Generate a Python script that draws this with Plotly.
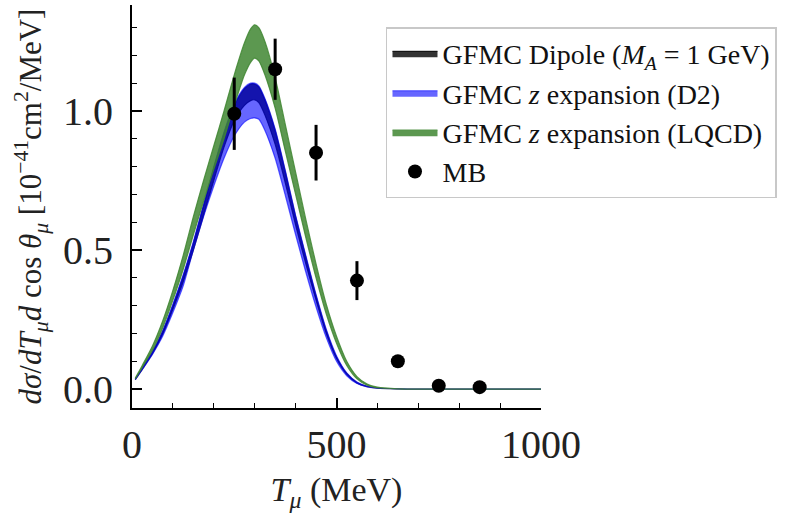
import plotly.graph_objects as go

# Muon kinetic energy grid (MeV) for the theory bands
T_mu = [8, 25, 50, 75, 100, 125, 150, 175, 200, 225, 250, 275, 290, 300, 310, 325,
        350, 375, 400, 425, 450, 475, 500, 525, 550, 575, 600, 650, 700, 800, 900, 1000]

# GFMC with dipole axial form factor (M_A = 1 GeV)
dipole_lo = [0.034, 0.071, 0.127, 0.197, 0.287, 0.385, 0.50, 0.625, 0.75, 0.87, 0.965, 1.02,
             1.037, 1.04, 1.03, 0.985, 0.88, 0.74, 0.59, 0.45, 0.32, 0.20, 0.11, 0.053,
             0.022, 0.009, 0.0035, 0.001, 0, 0, 0, 0]
dipole_hi = [0.036, 0.075, 0.133, 0.207, 0.30, 0.405, 0.525, 0.66, 0.795, 0.92, 1.02, 1.08,
             1.097, 1.097, 1.087, 1.04, 0.93, 0.78, 0.62, 0.475, 0.335, 0.21, 0.115, 0.056,
             0.024, 0.010, 0.004, 0.001, 0, 0, 0, 0]

# GFMC with z expansion, deuterium fit (D2)
d2_lo = [0.034, 0.07, 0.125, 0.19, 0.275, 0.37, 0.50, 0.62, 0.73, 0.83, 0.91, 0.96,
         0.973, 0.975, 0.97, 0.93, 0.83, 0.695, 0.555, 0.42, 0.295, 0.185, 0.10, 0.048,
         0.020, 0.008, 0.003, 0.001, 0, 0, 0, 0]
d2_hi = [0.037, 0.076, 0.135, 0.21, 0.305, 0.41, 0.53, 0.665, 0.80, 0.925, 1.025, 1.085,
         1.10, 1.10, 1.09, 1.045, 0.935, 0.785, 0.625, 0.48, 0.34, 0.215, 0.12, 0.058,
         0.025, 0.010, 0.004, 0.001, 0, 0, 0, 0]

# GFMC with z expansion, lattice QCD form factor (LQCD)
lqcd_lo = [0.037, 0.078, 0.14, 0.22, 0.32, 0.43, 0.555, 0.675, 0.79, 0.90, 1.02, 1.13,
           1.175, 1.19, 1.18, 1.13, 1.01, 0.855, 0.70, 0.545, 0.40, 0.27, 0.165, 0.085,
           0.037, 0.014, 0.005, 0.001, 0, 0, 0, 0]
lqcd_hi = [0.040, 0.085, 0.155, 0.245, 0.355, 0.48, 0.62, 0.75, 0.875, 1.00, 1.13, 1.245,
           1.295, 1.31, 1.30, 1.25, 1.12, 0.95, 0.78, 0.61, 0.45, 0.305, 0.19, 0.10,
           0.045, 0.018, 0.007, 0.001, 0, 0, 0, 0]

# MiniBooNE data points
mb_T = [250, 350, 450, 550, 650, 750, 850]
mb_xs = [0.99, 1.15, 0.85, 0.39, 0.10, 0.012, 0.007]
mb_err = [0.13, 0.11, 0.10, 0.07, 0.012, 0.005, 0.004]

SERIF = "Liberation Serif, Times New Roman, serif"


def band(x, lo, hi, name, fill, edge):
    return go.Scatter(
        x=x + x[::-1],
        y=hi + lo[::-1],
        fill="toself",
        fillcolor=fill,
        mode="lines",
        line=dict(color=edge, width=1.2, shape="spline", smoothing=0.7),
        name=name,
        hoverinfo="skip",
        legendgroup=name,
    )


fig = go.Figure()
fig.add_trace(band(T_mu, dipole_lo, dipole_hi,
                   "GFMC Dipole (<i>M</i><sub><i>A</i></sub> = 1 GeV)",
                   "rgba(0,0,0,0.8)", "rgba(0,0,0,0.8)"))
fig.add_trace(band(T_mu, d2_lo, d2_hi,
                   "GFMC <i>z</i> expansion (D2)",
                   "rgba(0,0,255,0.6)", "rgba(0,0,255,0.6)"))
fig.add_trace(band(T_mu, lqcd_lo, lqcd_hi,
                   "GFMC <i>z</i> expansion (LQCD)",
                   "rgba(63,134,49,0.85)", "rgba(63,134,49,0.85)"))
fig.add_trace(go.Scatter(
    x=mb_T, y=mb_xs, mode="markers", name="MB", legendgroup="MB",
    marker=dict(color="black", size=14),
    error_y=dict(type="data", array=mb_err, color="black", thickness=3, width=0),
))

axis_common = dict(
    showline=True, linecolor="black", linewidth=2,
    ticks="inside", ticklen=10, tickwidth=1.5, tickcolor="black",
    showgrid=False, zeroline=False, mirror=False,
    tickfont=dict(family=SERIF, size=40, color="#222"),
)

fig.update_layout(
    width=796, height=513,
    margin=dict(l=132, r=255, t=5, b=105),
    paper_bgcolor="white", plot_bgcolor="white",
    showlegend=True,
    legend=dict(
        x=0.621, y=0.945, xanchor="left", yanchor="top",
        bgcolor="white", bordercolor="#c8c8c8", borderwidth=1.5,
        font=dict(family=SERIF, size=28, color="#111"),
        traceorder="grouped", tracegroupgap=0, itemwidth=45,
    ),
    xaxis=dict(
        range=[0, 1000], tickvals=[0, 500, 1000], ticktext=["0", "500", "1000"],
        minor=dict(ticks="inside", ticklen=5, tickwidth=1.2, tickcolor="black", dtick=100),
        title=dict(text="<i>T</i><sub><i>μ</i></sub> (MeV)", standoff=16,
                   font=dict(family=SERIF, size=34, color="#222")),
        **axis_common,
    ),
    yaxis=dict(
        range=[-0.068, 1.381], tickvals=[0, 0.5, 1.0], ticktext=["0.0", "0.5", "1.0"],
        minor=dict(ticks="inside", ticklen=5, tickwidth=1.2, tickcolor="black", dtick=0.1, tick0=0),
        ticklabelstandoff=9,
        title=dict(text="<i>dσ</i>/<i>dT</i><sub><i>μ</i></sub><i>d</i> cos <i>θ</i><sub><i>μ</i></sub> [10<sup>−41</sup>cm<sup>2</sup>/MeV]",
                   standoff=12, font=dict(family=SERIF, size=31, color="#222")),
        **axis_common,
    ),
)

fig.write_html("out.html")
